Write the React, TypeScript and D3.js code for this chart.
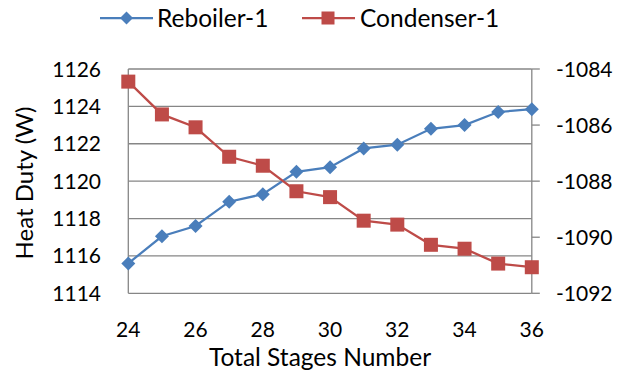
import React from "react";
import * as d3 from "d3";

const stages = [24, 25, 26, 27, 28, 29, 30, 31, 32, 33, 34, 35, 36];
const reboiler = [1115.6, 1117.05, 1117.6, 1118.9, 1119.3, 1120.5, 1120.75, 1121.75, 1121.95, 1122.8, 1123.0, 1123.7, 1123.85];
const condenser = [-1084.45, -1085.62, -1086.08, -1087.13, -1087.45, -1088.36, -1088.57, -1089.41, -1089.55, -1090.27, -1090.41, -1090.94, -1091.07];
const xTicks = [24, 26, 28, 30, 32, 34, 36];
const leftTicks = [1114, 1116, 1118, 1120, 1122, 1124, 1126];
const rightTicks = [-1092, -1090, -1088, -1086, -1084];

const BLUE = "#4A7EBB";
const RED = "#BE4B48";
const GRID = "#868686";
const FONT = "Lato, 'Open Sans', sans-serif";

export default function App() {
  const W = 635, H = 374;
  const left = 128.3, right = 531.8, top = 69, bottom = 293.3;
  const x = d3.scaleLinear().domain([24, 36]).range([left, right]);
  const yL = d3.scaleLinear().domain([1114, 1126]).range([bottom, top]);
  const yR = d3.scaleLinear().domain([-1092, -1084]).range([bottom, top]);
  const lineL = d3.line<number>().x((_, i) => x(stages[i])).y((d) => yL(d));
  const lineR = d3.line<number>().x((_, i) => x(stages[i])).y((d) => yR(d));
  const fs = 21;
  const fw = 24.5;
  const diamond = (cx: number, cy: number, r: number) =>
    `M${cx},${cy - r}L${cx + r},${cy}L${cx},${cy + r}L${cx - r},${cy}Z`;

  return (
    <svg width={W} height={H} style={{ position: "absolute", left: 0, top: 0, background: "#fff" }} fontFamily={FONT}>
      {/* gridlines */}
      {leftTicks.map((t) => (
        <line key={"g" + t} x1={left} x2={right} y1={yL(t)} y2={yL(t)} stroke={GRID} strokeWidth={1.3} />
      ))}
      {/* axes */}
      <line x1={left} x2={left} y1={top} y2={bottom} stroke={GRID} strokeWidth={1.3} />
      <line x1={right} x2={right} y1={top} y2={bottom} stroke={GRID} strokeWidth={1.3} />
      {rightTicks.map((t) => (
        <line key={"rt" + t} x1={right} x2={right + 8} y1={yR(t)} y2={yR(t)} stroke={GRID} strokeWidth={1.3} />
      ))}
      {/* tick labels */}
      {leftTicks.map((t) => (
        <text key={"lt" + t} x={101} y={yL(t) + 7.5} textAnchor="end" fontSize={fs} fill="#000">{t}</text>
      ))}
      {rightTicks.map((t) => (
        <text key={"rl" + t} x={556} y={yR(t) + 7.5} textAnchor="start" fontSize={fs} fill="#000">{t}</text>
      ))}
      {xTicks.map((t) => (
        <text key={"xt" + t} x={x(t)} y={336.7} textAnchor="middle" fontSize={fs} fill="#000">{t}</text>
      ))}
      <text x={320} y={366} textAnchor="middle" fontSize={fw} fill="#000">Total Stages Number</text>
      <text transform="translate(33,183) rotate(-90)" textAnchor="middle" fontSize={24} fill="#000">Heat Duty (W)</text>

      {/* series */}
      <path d={lineL(reboiler) || ""} fill="none" stroke={BLUE} strokeWidth={2.25} />
      {reboiler.map((v, i) => (
        <path key={"rb" + i} d={diamond(x(stages[i]), yL(v), 7)} fill={BLUE} />
      ))}
      <path d={lineR(condenser) || ""} fill="none" stroke={RED} strokeWidth={2.25} />
      {condenser.map((v, i) => (
        <rect key={"cd" + i} x={x(stages[i]) - 7} y={yR(v) - 7} width={14} height={14} fill={RED} />
      ))}

      {/* legend */}
      <line x1={100} x2={153} y1={18} y2={18} stroke={BLUE} strokeWidth={2.25} />
      <path d={diamond(126.5, 18, 6.5)} fill={BLUE} />
      <text x={157} y={27} fontSize={fw} fill="#000">Reboiler-1</text>
      <line x1={302} x2={355} y1={18} y2={18} stroke={RED} strokeWidth={2.25} />
      <rect x={321.5} y={11.5} width={13} height={13} fill={RED} />
      <text x={360} y={27} fontSize={fw} fill="#000">Condenser-1</text>
    </svg>
  );
}
